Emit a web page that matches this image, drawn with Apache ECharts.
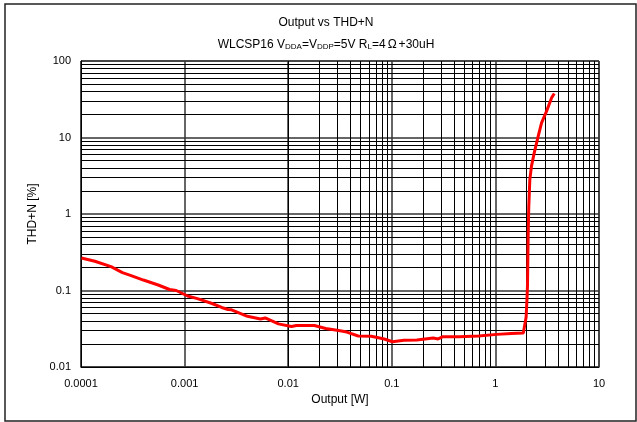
<!DOCTYPE html>
<html>
<head>
<meta charset="utf-8">
<script src="https://cdn.jsdelivr.net/npm/echarts@6/dist/echarts.min.js"></script>
<style>html,body{margin:0;padding:0;background:#fff}#c{width:637px;height:422px}</style>
</head>
<body>
<div id="c"></div>
<script>
// Data
const outputW = [1.01e-4,1.36e-4,1.95e-4,2.51e-4,3.0e-4,4.0e-4,5.56e-4,7.16e-4,8.3e-4,1.07e-3,1.33e-3,1.84e-3,2.28e-3,2.62e-3,2.84e-3,4.04e-3,5.4e-3,6.0e-3,8.05e-3,0.01075,0.012,0.0179,0.023,0.0307,0.0368,0.0474,0.0634,0.0846,0.1015,0.1307,0.1746,0.251,0.28,0.312,0.448,0.69,1.03,1.43,1.86,1.98,2.02,2.04,2.07,2.10,2.15,2.23,2.37,2.59,2.79,3.12,3.49,3.7];
const thdPct  = [0.266,0.241,0.205,0.171,0.158,0.137,0.118,0.103,0.100,0.0847,0.0783,0.0676,0.060,0.0565,0.056,0.046,0.0425,0.0438,0.0366,0.0338,0.0348,0.0348,0.0319,0.030,0.0286,0.0254,0.0253,0.0232,0.0214,0.0223,0.0225,0.0239,0.0233,0.0249,0.0249,0.0254,0.0267,0.0275,0.0279,0.045,0.08,0.114,0.506,1.25,2.83,4.22,6.3,10.4,15.5,22.1,33.0,37.6];
const xTickLabels = ['0.0001','0.001','0.01','0.1','1','10'];
const yTickLabels = ['0.01','0.1','1','10','100'];
const xMinExp = -4, xMaxExp = 1, yMinExp = -2, yMaxExp = 2;

const FONT = '"Liberation Sans", Arial, sans-serif';
const chart = echarts.init(document.getElementById('c'), null, {renderer:'canvas'});

// minor log grid lines (2..9 in each decade)
const gridLines = [];
for (let e = xMinExp; e < xMaxExp; e++) for (let m = 2; m <= 9; m++) gridLines.push({xAxis: m * Math.pow(10, e)});
for (let e = yMinExp; e < yMaxExp; e++) for (let m = 2; m <= 9; m++) gridLines.push({yAxis: m * Math.pow(10, e)});

const seriesData = outputW.map((x, i) => [x, thdPct[i]]);

chart.setOption({
  animation: false,
  backgroundColor: '#fff',
  textStyle: {fontFamily: FONT},
  title: [
    {text: 'Output vs THD+N', left: 326, top: 17, textAlign: 'center', padding: 0,
     textStyle: {fontSize: 12, fontWeight: 'normal', color: '#000', fontFamily: FONT}},
    {text: '{a|WLCSP16 V}{s|DDA}{a|=V}{s|DDP}{a|=5V R}{s|L}{a|=4}{o|Ω}{a|+30uH}', left: 326, top: 35, textAlign: 'center', padding: 0,
     textStyle: {fontSize: 12, fontWeight: 'normal', color: '#000', fontFamily: FONT,
       rich: {
         a: {fontSize: 12, color: '#000', fontFamily: FONT, lineHeight: 16, verticalAlign: 'bottom'},
         o: {fontSize: 12, color: '#000', fontFamily: FONT, lineHeight: 16, verticalAlign: 'bottom', padding: [0, 2, 0, 2]},
         s: {fontSize: 8, color: '#000', fontFamily: FONT, lineHeight: 16, verticalAlign: 'bottom'}
       }}}
  ],
  graphic: [{type: 'rect', shape: {x: 5, y: 4, width: 631, height: 417}, style: {fill: 'none', stroke: '#222', lineWidth: 1.5}, silent: true, z: 100}],
  grid: {left: 81, right: 38, top: 61, bottom: 55, show: true, borderColor: '#000', borderWidth: 1, backgroundColor: '#fff'},
  xAxis: {
    type: 'log', logBase: 10, min: Math.pow(10, xMinExp), max: Math.pow(10, xMaxExp),
    name: 'Output [W]', nameLocation: 'middle', nameGap: 19,
    nameTextStyle: {fontSize: 12, color: '#000', fontFamily: FONT},
    axisLine: {lineStyle: {color: '#000', width: 1}},
    axisTick: {show: false},
    splitLine: {show: true, lineStyle: {color: '#333', width: 1.5}},
    axisLabel: {fontSize: 11, color: '#000', margin: 11, fontFamily: FONT,
      formatter: v => xTickLabels[Math.round(Math.log10(v)) - xMinExp]}
  },
  yAxis: {
    type: 'log', logBase: 10, min: Math.pow(10, yMinExp), max: Math.pow(10, yMaxExp),
    name: 'THD+N [%]', nameLocation: 'middle', nameGap: 38, nameRotate: 90,
    nameTextStyle: {fontSize: 12, color: '#000', fontFamily: FONT},
    axisLine: {lineStyle: {color: '#000', width: 1}},
    axisTick: {show: false},
    splitLine: {show: true, lineStyle: {color: '#333', width: 1.5}},
    axisLabel: {fontSize: 11, color: '#000', margin: 10, fontFamily: FONT,
      formatter: v => yTickLabels[Math.round(Math.log10(v)) - yMinExp]}
  },
  series: [{
    type: 'line', data: seriesData, showSymbol: false, symbol: 'none', smooth: false,
    lineStyle: {color: '#ff0000', width: 3}, z: 10,
    markLine: {silent: true, symbol: 'none', label: {show: false}, animation: false,
      lineStyle: {color: '#000', width: 1, type: 'solid'}, data: gridLines, z: 1}
  }]
});
</script>
</body>
</html>
